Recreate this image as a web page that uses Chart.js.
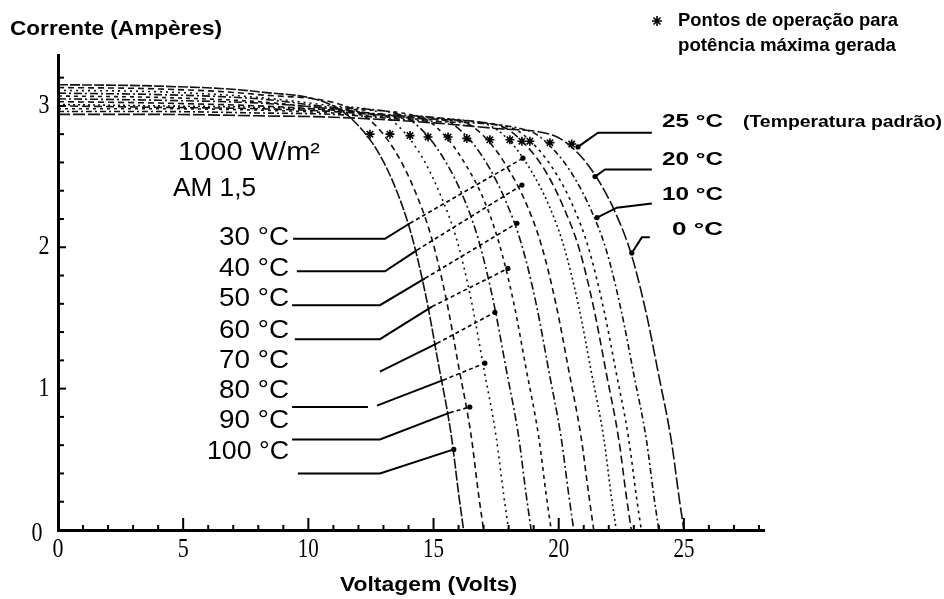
<!DOCTYPE html>
<html>
<head>
<meta charset="utf-8">
<script src="https://cdn.jsdelivr.net/npm/chart.js@4.4.1/dist/chart.umd.min.js"></script>
<style>
  html, body { margin: 0; padding: 0; background: #fff; }
  #wrap { width: 944px; height: 599px; }
</style>
</head>
<body>
<div id="wrap"><canvas id="ivChart" width="944" height="599"></canvas></div>
<script>
// curvas I-V de um modulo a 1000 W/m2, AM 1,5 (tensao em V, corrente em A)
const temps = [100, 90, 80, 70, 60, 50, 40, 30, 25, 20, 10, 0];

const v100 = [0, 4, 8, 11.0, 12.0, 12.8, 13.5, 14.1, 14.7, 15.2, 15.7, 16.0, 16.2];
const i100 = [3.15, 3.14, 3.10, 3.00, 2.86, 2.67, 2.41, 2.10, 1.65, 1.17, 0.68, 0.26, 0];
const v90 = [0, 4, 8, 11.8, 12.8, 13.6, 14.3, 14.9, 15.5, 16.0, 16.5, 16.8, 17.0];
const i90 = [3.13, 3.12, 3.08, 2.975, 2.84, 2.64, 2.38, 2.08, 1.64, 1.16, 0.67, 0.25, 0];
const v80 = [0, 4, 8, 11, 12.8, 13.8, 14.6, 15.3, 15.9, 16.5, 17.0, 17.5, 17.8, 18.0];
const i80 = [3.11, 3.10, 3.06, 3.00, 2.955, 2.82, 2.62, 2.36, 2.07, 1.63, 1.15, 0.66, 0.25, 0];
const v70 = [0, 4, 8, 11, 13.7, 14.7, 15.5, 16.2, 16.8, 17.4, 17.9, 18.4, 18.7, 18.9];
const i70 = [3.09, 3.08, 3.05, 2.99, 2.935, 2.80, 2.60, 2.35, 2.05, 1.61, 1.14, 0.66, 0.25, 0];
const v60 = [0, 4, 8, 11, 14.5, 15.5, 16.3, 17.0, 17.6, 18.2, 18.7, 19.2, 19.5, 19.7];
const i60 = [3.07, 3.06, 3.03, 2.98, 2.92, 2.78, 2.58, 2.34, 2.04, 1.61, 1.14, 0.66, 0.25, 0];
const v50 = [0, 4, 8, 11, 13, 15.4, 16.4, 17.2, 17.9, 18.5, 19.1, 19.6, 20.1, 20.4, 20.6];
const i50 = [3.05, 3.04, 3.02, 2.98, 2.94, 2.90, 2.77, 2.57, 2.32, 2.03, 1.60, 1.13, 0.65, 0.25, 0];
const v40 = [0, 4, 8, 11, 13.5, 16.2, 17.2, 18.0, 18.7, 19.3, 19.9, 20.4, 20.9, 21.2, 21.4];
const i40 = [3.03, 3.02, 3.00, 2.97, 2.93, 2.885, 2.75, 2.55, 2.31, 2.02, 1.59, 1.13, 0.65, 0.25, 0];
const v30 = [0, 4, 8, 11, 14, 17.1, 18.1, 18.9, 19.6, 20.2, 20.8, 21.3, 21.8, 22.1, 22.3];
const i30 = [3.01, 3.00, 2.99, 2.97, 2.92, 2.87, 2.74, 2.54, 2.30, 2.01, 1.58, 1.12, 0.65, 0.24, 0];
const v25 = [0, 4, 8, 11, 14.5, 17.7, 18.7, 19.5, 20.2, 20.8, 21.4, 21.9, 22.4, 22.7, 22.9];
const i25 = [3.00, 2.99, 2.98, 2.96, 2.91, 2.855, 2.72, 2.53, 2.28, 2.00, 1.57, 1.11, 0.64, 0.24, 0];
const v20 = [0, 4, 8, 11, 14.5, 18.1, 19.1, 19.9, 20.6, 21.2, 21.8, 22.3, 22.8, 23.1, 23.3];
const i20 = [2.98, 2.98, 2.97, 2.95, 2.905, 2.845, 2.71, 2.52, 2.28, 1.99, 1.56, 1.11, 0.64, 0.24, 0];
const v10 = [0, 4, 8, 11, 15, 18.8, 19.8, 20.6, 21.3, 21.9, 22.5, 23.0, 23.5, 23.8, 24.0];
const i10 = [2.96, 2.96, 2.95, 2.94, 2.89, 2.825, 2.69, 2.50, 2.26, 1.98, 1.55, 1.10, 0.64, 0.24, 0];
const v0 = [0, 4, 8, 11, 15, 17.5, 19.8, 20.8, 21.6, 22.3, 22.9, 23.5, 24.0, 24.5, 24.8, 25.0];
const i0 = [2.94, 2.94, 2.93, 2.92, 2.88, 2.84, 2.79, 2.66, 2.47, 2.23, 1.95, 1.53, 1.09, 0.63, 0.24, 0];

// pontos de potencia maxima (um por curva, mesma ordem de temps)
const mppV = [12.46, 13.26, 14.06, 14.78, 15.58, 16.33, 17.25, 18.05, 18.53, 18.85, 19.65, 20.52];
const mppI = [2.80, 2.80, 2.79, 2.78, 2.78, 2.77, 2.76, 2.76, 2.75, 2.75, 2.74, 2.73];

const xTicks = [0, 5, 10, 15, 20, 25];
const yTicks = [0, 1, 2, 3];

// linhas de chamada dos rotulos, em unidades do grafico [V, I]
const leadersLeft = [
  { label: '30 °C', y: 238, solid: [[9.39, 2.06], [13.06, 2.06], [14.06, 2.17]], ext: [14.06, 2.17, 18.57, 2.63] },
  { label: '40 °C', y: 269, solid: [[9.54, 1.83], [13.06, 1.83], [14.34, 1.98]], ext: [14.34, 1.98, 18.53, 2.44] },
  { label: '50 °C', y: 299, solid: [[9.35, 1.59], [12.86, 1.59], [14.66, 1.78]], ext: [14.66, 1.78, 18.33, 2.17] },
  { label: '60 °C', y: 331, solid: [[9.46, 1.35], [12.86, 1.35], [14.94, 1.58]], ext: [14.94, 1.58, 17.97, 1.85] },
  { label: '70 °C', y: 361, solid: [[12.86, 1.12], [15.14, 1.32]], ext: [15.14, 1.32, 17.45, 1.54] },
  { label: '80 °C', y: 391, solid: [[9.35, 0.87], [12.38, 0.87]], solid2: [[12.74, 0.88], [15.38, 1.06]], ext: [15.38, 1.06, 17.05, 1.18] },
  { label: '90 °C', y: 421, solid: [[9.35, 0.64], [12.86, 0.64], [15.65, 0.83]], ext: [15.65, 0.83, 16.45, 0.87] },
  { label: '100 °C', y: 452, solid: [[9.58, 0.40], [12.86, 0.40], [15.81, 0.57]], ext: null }
];
const leadersRight = [
  { label: '25 °C', y: 122, pts: [[23.72, 2.81], [21.57, 2.81], [20.77, 2.71]] },
  { label: '20 °C', y: 160, pts: [[23.72, 2.55], [21.85, 2.55], [21.45, 2.50]] },
  { label: '10 °C', y: 195, pts: [[23.72, 2.31], [22.32, 2.28], [21.53, 2.21]] },
  { label: '0 °C', y: 230, pts: [[23.64, 2.07], [23.32, 2.07], [22.92, 1.96]] }
];

const seriesV = [v100, v90, v80, v70, v60, v50, v40, v30, v25, v20, v10, v0];
const seriesI = [i100, i90, i80, i70, i60, i50, i40, i30, i25, i20, i10, i0];
const dashes = [[10, 2], [6, 4], [2, 4], [8, 3, 2, 3], [4, 4], [8, 3, 2, 3],
                [6, 4], [2, 3], [8, 4], [3, 4], [6, 3, 2, 3], [12, 3]];

function toPts(xs, ys) {
  return xs.map((x, k) => ({ x: x, y: ys[k] }));
}

const datasets = temps.map((t, k) => ({
  label: t + ' °C',
  data: toPts(seriesV[k], seriesI[k]),
  showLine: true,
  borderColor: '#111',
  borderWidth: 1.6,
  borderDash: dashes[k],
  pointRadius: 0,
  cubicInterpolationMode: 'monotone',
  fill: false
}));
datasets.push({
  label: 'Pontos de operação para potência máxima gerada',
  data: toPts(mppV, mppI),
  showLine: false,
  pointStyle: 'star',
  pointRadius: 4.5,
  borderColor: '#000',
  borderWidth: 1.6
});

// texto comprimido/esticado para caber numa largura
function fitText(ctx, txt, x, y, w, font, align) {
  ctx.save();
  ctx.font = font;
  ctx.textBaseline = 'middle';
  ctx.textAlign = 'left';
  const m = ctx.measureText(txt).width;
  const sx = w / m;
  let left = x;
  if (align === 'right') left = x - w;
  if (align === 'center') left = x - w / 2;
  ctx.translate(left, y);
  ctx.scale(sx, 1);
  ctx.fillStyle = '#000';
  ctx.fillText(txt, 0, 0);
  ctx.restore();
}

const decorations = {
  id: 'decorations',
  afterDatasetsDraw(chart) {
    const ctx = chart.ctx;
    const xs = chart.scales.x, ys = chart.scales.y;
    const px = v => xs.getPixelForValue(v);
    const py = v => ys.getPixelForValue(v);
    const axisY = py(0), axisX = px(0);

    ctx.save();
    ctx.strokeStyle = '#000';
    // marcas dos eixos, voltadas para dentro
    ctx.lineWidth = 2;
    for (let v = 1; v <= 28; v++) {
      const len = v % 5 === 0 ? 12 : 5;
      ctx.beginPath();
      ctx.moveTo(px(v), axisY);
      ctx.lineTo(px(v), axisY - len);
      ctx.stroke();
    }
    for (let k = 1; k <= 16; k++) {
      const v = k * 0.2;
      const len = k % 5 === 0 ? 8 : 6;
      ctx.beginPath();
      ctx.moveTo(axisX, py(v));
      ctx.lineTo(axisX + len, py(v));
      ctx.stroke();
    }

    // linhas de chamada
    const line = (pts, w, dash) => {
      ctx.setLineDash(dash || []);
      ctx.lineWidth = w;
      ctx.beginPath();
      pts.forEach((p, k) => {
        if (k === 0) ctx.moveTo(px(p[0]), py(p[1]));
        else ctx.lineTo(px(p[0]), py(p[1]));
      });
      ctx.stroke();
      ctx.setLineDash([]);
    };
    const dot = (v, i) => {
      ctx.beginPath();
      ctx.arc(px(v), py(i), 2.6, 0, Math.PI * 2);
      ctx.fillStyle = '#000';
      ctx.fill();
    };
    leadersLeft.forEach(l => {
      line(l.solid, 2);
      if (l.solid2) line(l.solid2, 2);
      if (l.ext) {
        line([[l.ext[0], l.ext[1]], [l.ext[2], l.ext[3]]], 1.6, [4, 3]);
        dot(l.ext[2], l.ext[3]);
      } else {
        const last = l.solid[l.solid.length - 1];
        dot(last[0], last[1]);
      }
    });
    leadersRight.forEach(l => {
      line(l.pts, 2);
      const last = l.pts[l.pts.length - 1];
      dot(last[0], last[1]);
    });

    // rotulos dos eixos
    const tickFont = '27px "Liberation Serif"';
    xTicks.forEach(v => {
      const w = String(v).length === 1 ? 11 : 21;
      fitText(ctx, String(v), px(v), 550, w, tickFont, 'center');
    });
    yTicks.forEach(v => {
      if (v === 0) fitText(ctx, '0', 37, 534, 11, tickFont, 'center');
      else fitText(ctx, String(v), 44, py(v), 11, tickFont, 'center');
    });

    fitText(ctx, 'Corrente (Ampères)', 10, 29, 212, 'bold 20px "Liberation Sans"', 'left');
    fitText(ctx, 'Voltagem (Volts)', 340, 585, 177, 'bold 20px "Liberation Sans"', 'left');

    // legenda
    ctx.lineWidth = 1.6;
    const sx = 657, sy = 21, r = 5;
    ctx.beginPath();
    ctx.moveTo(sx - r, sy); ctx.lineTo(sx + r, sy);
    ctx.moveTo(sx, sy - r); ctx.lineTo(sx, sy + r);
    ctx.moveTo(sx - r * 0.7, sy - r * 0.7); ctx.lineTo(sx + r * 0.7, sy + r * 0.7);
    ctx.moveTo(sx - r * 0.7, sy + r * 0.7); ctx.lineTo(sx + r * 0.7, sy - r * 0.7);
    ctx.stroke();
    fitText(ctx, 'Pontos de operação para', 678, 21, 220, 'bold 19px "Liberation Sans"', 'left');
    fitText(ctx, 'potência máxima gerada', 678, 46, 218, 'bold 19px "Liberation Sans"', 'left');

    fitText(ctx, '1000 W/m²', 178, 153, 142, '25px "Liberation Sans"', 'left');
    fitText(ctx, 'AM 1,5', 173, 189, 83, '25px "Liberation Sans"', 'left');

    leadersLeft.forEach(l => {
      const w = l.label.length > 5 ? 82 : 70;
      fitText(ctx, l.label, 289, l.y, w, '25px "Liberation Sans"', 'right');
    });
    leadersRight.forEach(l => {
      const w = l.label.length > 4 ? 61 : 51;
      fitText(ctx, l.label, 723, l.y, w, 'bold 19px "Liberation Sans"', 'right');
    });
    fitText(ctx, '(Temperatura padrão)', 743, 123, 199, 'bold 16px "Liberation Sans"', 'left');
    ctx.restore();
  }
};

new Chart(document.getElementById('ivChart'), {
  type: 'scatter',
  data: { datasets: datasets },
  options: {
    responsive: false,
    animation: false,
    devicePixelRatio: 1,
    layout: { padding: { top: 55, right: 180, bottom: 0, left: 0 } },
    plugins: { legend: { display: false }, tooltip: { enabled: false } },
    scales: {
      x: {
        type: 'linear', min: 0, max: 28.2,
        grid: { display: false, drawTicks: false },
        border: { display: true, color: '#000', width: 3 },
        ticks: { display: false },
        afterFit(s) { s.height = 69; }
      },
      y: {
        type: 'linear', min: 0, max: 3.36,
        grid: { display: false, drawTicks: false },
        border: { display: true, color: '#000', width: 3 },
        ticks: { display: false },
        afterFit(s) { s.width = 58; }
      }
    }
  },
  plugins: [decorations]
});
</script>
</body>
</html>
